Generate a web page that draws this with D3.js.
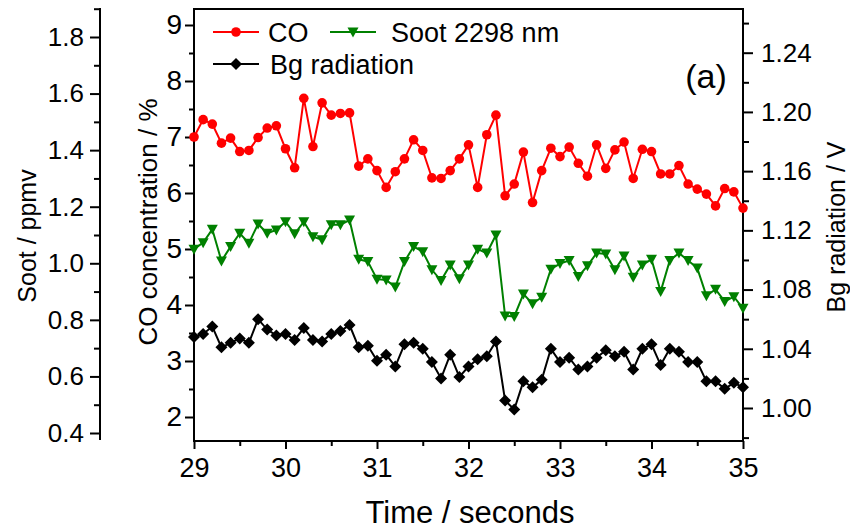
<!DOCTYPE html>
<html><head><meta charset="utf-8">
<script src="https://cdn.jsdelivr.net/npm/d3@7"></script>
<style>
html,body{margin:0;padding:0;background:#fff;}
text{font-family:"Liberation Sans",Arial,sans-serif;fill:#000;}
</style></head>
<body>
<svg id="chart" width="850" height="529"></svg>
<script>
const time = [29.0,29.1,29.2,29.3,29.4,29.5,29.6,29.7,29.8,29.9,
  30.0,30.1,30.2,30.3,30.4,30.5,30.6,30.7,30.8,30.9,
  31.0,31.1,31.2,31.3,31.4,31.5,31.6,31.7,31.8,31.9,
  32.0,32.1,32.2,32.3,32.4,32.5,32.6,32.7,32.8,32.9,
  33.0,33.1,33.2,33.3,33.4,33.5,33.6,33.7,33.8,33.9,
  34.0,34.1,34.2,34.3,34.4,34.5,34.6,34.7,34.8,34.9,35.0];
const coValues = [7.00,7.31,7.23,6.89,6.98,6.74,6.76,6.99,7.16,7.20,
  6.79,6.45,7.69,6.83,7.61,7.39,7.42,7.43,6.48,6.61,
  6.40,6.10,6.38,6.61,6.95,6.76,6.27,6.26,6.40,6.61,
  6.86,6.10,7.04,7.39,5.95,6.16,6.73,5.83,6.40,6.80,
  6.65,6.82,6.53,6.30,6.86,6.44,6.77,6.91,6.26,6.78,
  6.74,6.34,6.34,6.49,6.16,6.07,5.98,5.77,6.08,6.02,5.73];
const sootValues = [1.050,1.073,1.120,1.008,1.059,1.106,1.071,1.139,1.106,1.118,
  1.147,1.104,1.147,1.094,1.083,1.136,1.136,1.153,1.014,1.006,
  0.944,0.941,0.916,1.006,1.059,1.041,0.977,0.939,0.994,0.945,
  0.994,1.050,1.036,1.100,0.814,0.812,0.891,0.857,0.880,0.979,
  0.999,1.010,0.953,0.991,1.036,1.033,0.977,1.026,0.951,0.994,
  1.014,0.900,1.010,1.036,1.010,0.983,0.885,0.908,0.865,0.882,0.841];
const bgValues = [1.048,1.050,1.055,1.041,1.044,1.047,1.044,1.060,1.053,1.049,
  1.050,1.046,1.054,1.046,1.045,1.050,1.052,1.056,1.041,1.042,
  1.032,1.036,1.028,1.043,1.044,1.040,1.031,1.020,1.036,1.021,
  1.028,1.033,1.035,1.045,1.005,0.999,1.018,1.014,1.019,1.040,
  1.031,1.034,1.026,1.028,1.034,1.039,1.035,1.038,1.026,1.040,
  1.043,1.029,1.040,1.038,1.031,1.031,1.018,1.018,1.013,1.017,1.014];

const xTicks = [29,30,31,32,33,34,35];
const xMinor = [29.5,30.5,31.5,32.5,33.5,34.5];
const coTicks = [2,3,4,5,6,7,8,9];
const coMinor = [2.5,3.5,4.5,5.5,6.5,7.5,8.5];
const sootTicks = [0.4,0.6,0.8,1.0,1.2,1.4,1.6,1.8];
const sootMinor = [0.5,0.7,0.9,1.1,1.3,1.5,1.7,1.9];
const bgTicks = [1.00,1.04,1.08,1.12,1.16,1.20,1.24];
const bgMinor = [0.98,1.02,1.06,1.10,1.14,1.18,1.22,1.26];

const seriesNames = ["CO","Soot 2298 nm","Bg radiation"];
const seriesColors = ["#ff0000","#008000","#000000"];

const svg = d3.select("#chart");
const L = 194, R = 743, T = 9, B = 441;
const sootX = 100;

const x = d3.scaleLinear().domain([29,35]).range([L,R]);
const yCO = d3.scaleLinear().domain([2,9]).range([417,25]);
const ySoot = d3.scaleLinear().domain([0.4,1.8]).range([433,37]);
const yBg = d3.scaleLinear().domain([1.00,1.24]).range([408,52.7]);

function styleAxis(g, fs){
  g.select(".domain").remove();
  g.selectAll(".tick line").attr("stroke","#000").attr("stroke-width",2);
  g.selectAll(".tick text").attr("font-size",fs||26).attr("font-family","Liberation Sans, Arial, sans-serif");
}

// frame
svg.append("rect").attr("x",L).attr("y",T).attr("width",R-L).attr("height",B-T)
  .attr("fill","none").attr("stroke","#000").attr("stroke-width",2);
// soot axis line
svg.append("line").attr("x1",sootX).attr("x2",sootX).attr("y1",8).attr("y2",440)
  .attr("stroke","#000").attr("stroke-width",2);

// X axis
svg.append("g").attr("transform",`translate(0,${B})`)
  .call(d3.axisBottom(x).tickValues(xTicks).tickSize(8).tickPadding(9).tickFormat(d3.format("d")))
  .call(styleAxis, 27);
svg.append("g").attr("transform",`translate(0,${B})`)
  .call(d3.axisBottom(x).tickValues(xMinor).tickSize(5).tickFormat(""))
  .call(styleAxis);

// CO axis
svg.append("g").attr("transform",`translate(${L},0)`)
  .call(d3.axisLeft(yCO).tickValues(coTicks).tickSize(9).tickPadding(3).tickFormat(d3.format("d")))
  .call(styleAxis, 28);
svg.append("g").attr("transform",`translate(${L},0)`)
  .call(d3.axisLeft(yCO).tickValues(coMinor).tickSize(5).tickFormat(""))
  .call(styleAxis);

// Soot axis
svg.append("g").attr("transform",`translate(${sootX},0)`)
  .call(d3.axisLeft(ySoot).tickValues(sootTicks).tickSize(10).tickPadding(6).tickFormat(d3.format(".1f")))
  .call(styleAxis, 26);
svg.append("g").attr("transform",`translate(${sootX},0)`)
  .call(d3.axisLeft(ySoot).tickValues(sootMinor).tickSize(6).tickFormat(""))
  .call(styleAxis);

// Bg axis
svg.append("g").attr("transform",`translate(${R},0)`)
  .call(d3.axisRight(yBg).tickValues(bgTicks).tickSize(10).tickPadding(8).tickFormat(d3.format(".2f")))
  .call(styleAxis, 26);
svg.append("g").attr("transform",`translate(${R},0)`)
  .call(d3.axisRight(yBg).tickValues(bgMinor).tickSize(6).tickFormat(""))
  .call(styleAxis);

// axis titles
svg.append("text").attr("transform","translate(36,236) rotate(-90)").attr("text-anchor","middle")
  .attr("font-size",25).text("Soot / ppmv");
svg.append("text").attr("transform","translate(157,222) rotate(-90)").attr("text-anchor","middle")
  .attr("font-size",26).text("CO concentration / %");
svg.append("text").attr("transform","translate(845,227) rotate(-90)").attr("text-anchor","middle")
  .attr("font-size",25).text("Bg radiation / V");
svg.append("text").attr("x",470).attr("y",523).attr("text-anchor","middle")
  .attr("font-size",31).text("Time / seconds");

// series
const series = [
  {vals: coValues, y: yCO, color: seriesColors[0], sym: "circle"},
  {vals: sootValues, y: ySoot, color: seriesColors[1], sym: "tri"},
  {vals: bgValues, y: yBg, color: seriesColors[2], sym: "diamond"}
];
function marker(sel, type, color){
  if(type==="circle"){
    sel.append("circle").attr("r",4.8).attr("fill",color);
  } else if(type==="tri"){
    sel.append("path").attr("d","M-5.5,-4.5L5.5,-4.5L0,5.5Z").attr("fill",color);
  } else {
    sel.append("path").attr("d","M0,-6L6,0L0,6L-6,0Z").attr("fill",color);
  }
}
series.forEach(s=>{
  const line = d3.line().x((d,i)=>x(time[i])).y(d=>s.y(d));
  svg.append("path").datum(s.vals).attr("d",line).attr("fill","none")
    .attr("stroke",s.color).attr("stroke-width",2);
  svg.append("g").selectAll("g").data(s.vals).join("g")
    .attr("transform",(d,i)=>`translate(${x(time[i])},${s.y(d)})`)
    .each(function(){ marker(d3.select(this), s.sym, s.color); });
});

// legend
const legendItems = [
  {name: seriesNames[0], color: seriesColors[0], sym:"circle", x:213, y:32, tx:268},
  {name: seriesNames[1], color: seriesColors[1], sym:"tri", x:330, y:32, tx:391},
  {name: seriesNames[2], color: seriesColors[2], sym:"diamond", x:213, y:64, tx:270}
];
legendItems.forEach(it=>{
  const g = svg.append("g").attr("transform",`translate(${it.x},${it.y})`);
  g.append("line").attr("x1",0).attr("x2",46).attr("y1",0).attr("y2",0)
    .attr("stroke",it.color).attr("stroke-width",2);
  const m = g.append("g").attr("transform","translate(23,0)");
  marker(m, it.sym, it.color);
  g.append("text").attr("x",it.tx-it.x).attr("y",9.5).attr("font-size",27).text(it.name);
});
svg.append("text").attr("x",706).attr("y",88).attr("text-anchor","middle")
  .attr("font-size",34).text("(a)");
</script>
</body></html>
